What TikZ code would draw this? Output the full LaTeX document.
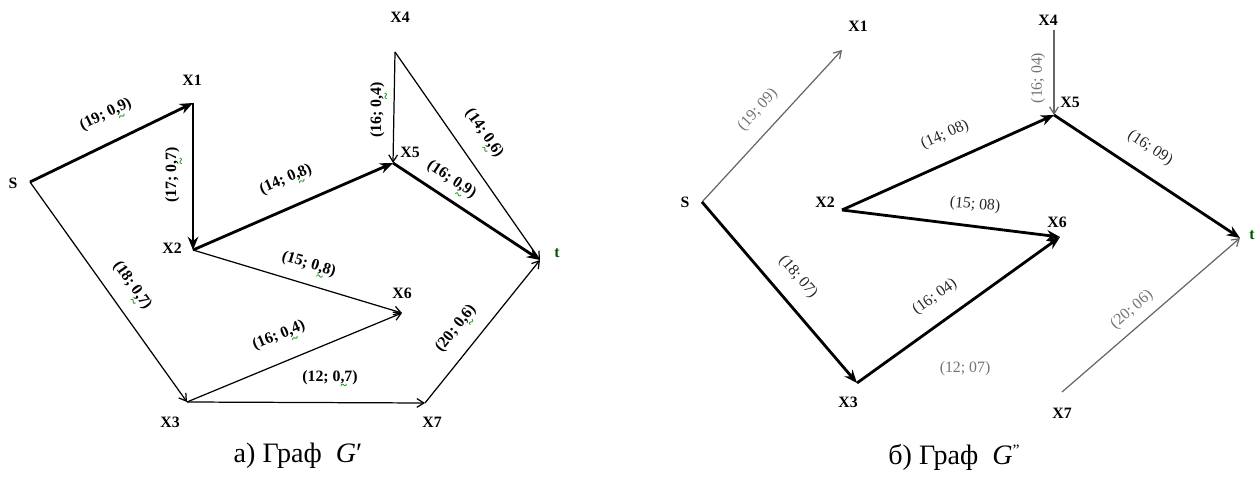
\documentclass[tikz,border=0pt]{standalone}
\usepackage{fontspec}
\setmainfont{Liberation Serif}
\usetikzlibrary{arrows.meta}
\newcommand{\gsq}[1]{\leavevmode\rlap{\raisebox{-0.55em}{\textcolor{green!55!black}{\fontsize{7}{7}\selectfont\char"7E}}}#1}
\begin{document}
\begin{tikzpicture}[x=0.02cm,y=-0.02cm,
  vlbl/.style={font=\bfseries\fontsize{9}{10}\selectfont,inner sep=0pt},
  elbl/.style={font=\bfseries\fontsize{9}{10}\selectfont,inner sep=0pt},
  rlbl/.style={font=\fontsize{9}{10}\selectfont,inner sep=0pt,text=black!85},
  glbl/.style={rlbl,text=black!55},
  heavy/.style={line width=1.6pt,-{Stealth[length=7.5pt,width=6pt]}},
  light/.style={line width=0.7pt,-{Straight Barb[length=4pt,width=5pt]}},
  faint/.style={light,draw=black!60},
  capt/.style={font=\fontsize{16}{19}\selectfont,inner sep=0pt}]
\useasboundingbox (0,0) rectangle (1257,479);
% a) graph G'
\coordinate (a-s) at (30,182);
\coordinate (a-x1) at (193,103);
\coordinate (a-x2) at (193,250);
\coordinate (a-x3) at (187,402);
\coordinate (a-x4) at (395,52);
\coordinate (a-x5) at (393,163);
\coordinate (a-x6) at (402,313);
\coordinate (a-x7) at (425,403);
\coordinate (a-t) at (540,260);
\foreach \n/\v/\x/\y in {s/S/13/183,x1/X1/192/80,x2/X2/172/248,x3/X3/170/422,
    x4/X4/400/17,x5/X5/410/152,x6/X6/402/293,x7/X7/432/422} {
  \node[vlbl] (a-l\n) at (\x,\y) {\v};
}
\node[vlbl,text=green!35!black] (a-lt) at (557,253) {t};
\draw[light] (a-x4) -- (a-t);
\draw[light] (a-x4) -- (a-x5);
\draw[light] (a-s) -- (a-x3);
\draw[light] (a-x2) -- (a-x6);
\draw[light] (a-x3) -- (a-x6);
\draw[light] (a-x3) -- (a-x7);
\draw[light] (a-x7) -- (a-t);
\draw[heavy] (a-s) -- (a-x1);
\draw[heavy] (a-x1) -- (a-x2);
\draw[heavy] (a-x2) -- (a-x5);
\draw[heavy] (a-x5) -- (a-t);
\node[elbl,rotate=26] (a-e1) at (107,117) {(19; 0\gsq{,9})};
\node[elbl,rotate=90] (a-e2) at (175,175) {(17; 0\gsq{,7})};
\node[elbl,rotate=23.5] (a-e3) at (287,182) {(14; 0\gsq{,8})};
\node[elbl,rotate=90] (a-e4) at (380,110) {(16; 0\gsq{,4})};
\node[elbl,rotate=-55] (a-e5) at (482,135) {(14; 0\gsq{,6})};
\node[elbl,rotate=-33.4] (a-e6) at (450,182) {(16; 0\gsq{,9})};
\node[elbl,rotate=-16.8] (a-e7) at (308,267) {(15; 0\gsq{,8})};
\node[elbl,rotate=-54.5] (a-e8) at (130,287) {(18; 0\gsq{,7})};
\node[elbl,rotate=22.5] (a-e9) at (280,338) {(16; 0\gsq{,4})};
\node[elbl] (a-e10) at (330,380) {(12; 0\gsq{,7})};
\node[elbl,rotate=51.2] (a-e11) at (458,330) {(20; 0\gsq{,6})};
\node[capt] (a-cap) at (298,456) {а) Граф\ \ \textit{G}′};
% b) graph G''
\coordinate (b-s) at (702,202);
\coordinate (b-x1) at (842,50);
\coordinate (b-x2) at (842,210);
\coordinate (b-x3) at (857,383);
\coordinate (b-x4) at (1054,30);
\coordinate (b-x5) at (1054,115);
\coordinate (b-x6) at (1060,237);
\coordinate (b-x7) at (1062,392);
\coordinate (b-t) at (1240,238);
\foreach \n/\v/\x/\y in {s/S/685/202,x1/X1/858/26,x2/X2/825/202,x3/X3/848/402,
    x4/X4/1048/20,x5/X5/1070/102,x6/X6/1057/222,x7/X7/1062/413} {
  \node[vlbl] (b-l\n) at (\x,\y) {\v};
}
\node[vlbl,text=green!35!black] (b-lt) at (1252,235) {t};
\draw[faint] (b-s) -- (b-x1);
\draw[faint] (b-x4) -- (b-x5);
\draw[faint] (b-x7) -- (b-t);
\draw[heavy] (b-s) -- (b-x3);
\draw[heavy] (b-x3) -- (b-x6);
\draw[heavy] (b-x2) -- (b-x6);
\draw[heavy] (b-x2) -- (b-x5);
\draw[heavy] (b-x5) -- (b-t);
\node[glbl,rotate=47.4] (b-e1) at (758,110) {(19; 09)};
\node[rlbl,rotate=24] (b-e2) at (945,135) {(14; 08)};
\node[glbl,rotate=90] (b-e3) at (1038,78) {(16; 04)};
\node[rlbl,rotate=-5] (b-e4) at (975,205) {(15; 08)};
\node[rlbl,rotate=-33.5] (b-e5) at (1150,148) {(16; 09)};
\node[rlbl,rotate=-49.4] (b-e6) at (798,277) {(18; 07)};
\node[rlbl,rotate=35.7] (b-e7) at (935,297) {(16; 04)};
\node[glbl] (b-e8) at (965,369) {(12; 07)};
\node[glbl,rotate=40.9] (b-e9) at (1132,310) {(20; 06)};
\node[capt] (b-cap) at (954,457) {б) Граф\ \ \textit{G}\raisebox{0.7ex}{\fontsize{9}{9}\selectfont\symbol{"22}}};
\end{tikzpicture}
\end{document}
